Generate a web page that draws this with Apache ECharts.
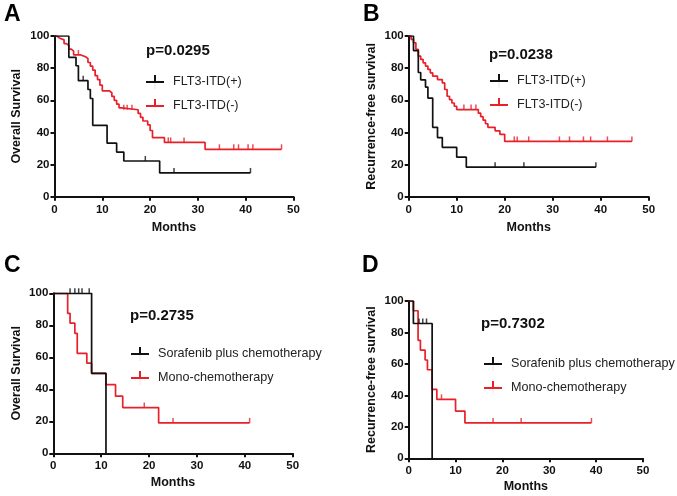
<!DOCTYPE html>
<html><head><meta charset="utf-8">
<script src="https://cdn.jsdelivr.net/npm/echarts@6/dist/echarts.min.js"></script>
<style>html,body{margin:0;padding:0;background:#fff}#c{width:677px;height:496px}</style>
</head><body><div id="c"></div>
<script>
// ---- data ----
const xTickValues = [0, 10, 20, 30, 40, 50];
const yTickValues = [0, 20, 40, 60, 80, 100];
const panelLetters = ['A', 'B', 'C', 'D'];
const pValues = ['p=0.0295', 'p=0.0238', 'p=0.2735', 'p=0.7302'];
const yTitles = ['Overall Survival', 'Recurrence-free survival', 'Overall Survival', 'Recurrence-free survival'];
const xTitle = 'Months';
const legendAB = ['FLT3-ITD(+)', 'FLT3-ITD(-)'];
const legendCD = ['Sorafenib plus chemotherapy', 'Mono-chemotherapy'];

// Panel A (overall survival, FLT3-ITD)
const aPos = [[0,100],[3,86.7],[4.5,81.5],[5,72.2],[7,66.7],[7.5,61.1],[8,44.4],[11,33.3],[13,27.8],[14.5,22.2],[22,14.8],[41,14.8]];
const aPosCens = [[6,72.2],[19,22.2],[25,14.8],[41,14.8]];
const aNeg = [[0,100],[0.5,98.8],[1,97.6],[2,95.3],[2.5,94.1],[3,91.8],[3.5,90.6],[4,88.2],[5.5,87.1],[6.5,85.9],[7,83.5],[7.5,81.2],[8,78.8],[8.5,75.3],[9,72.9],[9.5,69.4],[10,65.9],[11.5,64.7],[12,62.4],[12.5,60],[13,57.6],[13.5,55.3],[14,54.1],[17.5,51.8],[18,49.4],[18.5,47.1],[19.5,44.7],[20,41.2],[20.5,36.7],[23,33.8],[31.5,29.5],[47.5,29.5]];
const aNegCens = [[5,88.2],[14.5,54.1],[15.2,54.1],[16.2,54.1],[23.8,33.8],[24.3,33.8],[27.1,33.8],[34.5,29.5],[37.5,29.5],[38.5,29.5],[40.5,29.5],[41.5,29.5],[47.5,29.5]];

// Panel B (recurrence-free survival, FLT3-ITD)
const bPos = [[0,100],[1,90.9],[2,77.3],[2.5,72.7],[3.5,68.2],[4,61.4],[5,43.2],[6,36.8],[7,30.7],[10,24.6],[12,18.4],[39,18.4]];
const bPosCens = [[18,18.4],[24,18.4],[39,18.4]];
const bNeg = [[0,100],[0.5,97.9],[1,95.8],[1.5,91.7],[2,87.5],[2.5,85.4],[3,83.3],[3.5,81.3],[4,79.2],[4.5,77.1],[5,75],[6,72.9],[7,70.8],[7.5,66.7],[8,62.5],[8.5,60.4],[9,58.3],[9.5,56.3],[10,54.2],[14.5,52],[15,49.8],[15.5,47.6],[16,45.4],[16.5,43.2],[18,41],[19,38.8],[20,34.4],[46.5,34.4]];
const bNegCens = [[11.5,54.2],[13,54.2],[14,54.2],[22,34.4],[22.6,34.4],[25,34.4],[31.4,34.4],[33.5,34.4],[36.4,34.4],[37.9,34.4],[41.4,34.4],[46.5,34.4]];

// Panel C (overall survival, treatment)
const cSora = [[0,100],[8,50],[11,0]];
const cSoraCens = [[3.5,100],[4.5,100],[5.3,100],[6,100],[7.5,100]];
const cMono = [[0,100],[3,87.5],[3.5,81.3],[4.5,75],[5,62.5],[7,56.3],[8,50],[11,42.9],[13,35.7],[14.5,28.6],[22,19.0],[41,19.0]];
const cMonoCens = [[19,28.6],[25,19.0],[41,19.0]];

// Panel D (recurrence-free survival, treatment)
const dSora = [[0,100],[1,85.7],[5,0]];
const dSoraCens = [[2.2,85.7],[3,85.7],[3.8,85.7]];
const dMono = [[0,100],[1,93.8],[2,75],[2.5,68.8],[3.5,62.5],[4,56.3],[5,43.8],[6,37.5],[10,30],[12,22.5],[39,22.5]];
const dMonoCens = [[7,37.5],[18,22.5],[24,22.5],[39,22.5]];

// ---- layout / styles ----
const RED = '#e8202a', BLACK = '#111';
const FONT = 'Arial, "Liberation Sans", sans-serif';
const grids = [
  {left: 54.5, top: 36, width: 239, height: 160.7},
  {left: 408.7, top: 36, width: 240, height: 160.7},
  {left: 53.3, top: 293.3, width: 239.4, height: 160},
  {left: 408.7, top: 301, width: 234.3, height: 157.3}
];
const xNameGaps = [24, 24, 23, 22];
const yNameGaps = [31, 31, 30, 31];

const xAxes = grids.map((g, i) => ({
  gridIndex: i, type: 'value', min: xTickValues[0], max: xTickValues[xTickValues.length - 1], interval: xTickValues[1] - xTickValues[0],
  name: xTitle, nameLocation: 'middle', nameGap: xNameGaps[i],
  nameTextStyle: {fontFamily: FONT, fontWeight: 'bold', fontSize: 12.5, color: '#111'},
  axisLine: {show: true, onZero: false, lineStyle: {color: '#111', width: 2}},
  axisTick: {show: true, length: 4, lineStyle: {color: '#111', width: 2}},
  axisLabel: {fontFamily: FONT, fontWeight: 'bold', fontSize: 11.5, color: '#111', margin: 7},
  splitLine: {show: false}
}));
const yAxes = grids.map((g, i) => ({
  gridIndex: i, type: 'value', min: yTickValues[0], max: yTickValues[yTickValues.length - 1], interval: yTickValues[1] - yTickValues[0],
  name: yTitles[i], nameLocation: 'middle', nameGap: yNameGaps[i],
  nameTextStyle: {fontFamily: FONT, fontWeight: 'bold', fontSize: 12.5, color: '#111'},
  axisLine: {show: true, onZero: false, lineStyle: {color: '#111', width: 2}},
  axisTick: {show: true, length: 4, lineStyle: {color: '#111', width: 2}},
  axisLabel: {fontFamily: FONT, fontWeight: 'bold', fontSize: 11.5, color: '#111', margin: 5},
  splitLine: {show: false}
}));

function curve(name, data, color, idx) {
  return {name: name, type: 'line', step: 'end', data: data, xAxisIndex: idx, yAxisIndex: idx,
    showSymbol: false, symbol: 'none', color: color, lineStyle: {color: color, width: 1.7}, silent: true, z: color === RED ? 3 : 4};
}
function censors(data, color, idx) {
  return {type: 'scatter', data: data, xAxisIndex: idx, yAxisIndex: idx, symbol: 'rect', symbolSize: [1.5, 5],
    symbolOffset: [0, -2.5], itemStyle: {color: color}, silent: true, z: 5};
}
const series = [
  curve(legendAB[0], aPos, BLACK, 0), censors(aPosCens, BLACK, 0),
  curve(legendAB[1], aNeg, RED, 0), censors(aNegCens, RED, 0),
  curve(legendAB[0], bPos, BLACK, 1), censors(bPosCens, BLACK, 1),
  curve(legendAB[1], bNeg, RED, 1), censors(bNegCens, RED, 1),
  curve(legendCD[1], cMono, RED, 2), censors(cMonoCens, RED, 2),
  curve(legendCD[0], cSora, BLACK, 2), censors(cSoraCens, BLACK, 2),
  curve(legendCD[1], dMono, RED, 3), censors(dMonoCens, RED, 3),
  curve(legendCD[0], dSora, BLACK, 3), censors(dSoraCens, BLACK, 3)
];

const ICON = 'path://M0,6h18v2h-18z M8,0h2v6h-2z M8.95,8h0.1v6h-0.1z';
const legendPos = [{left: 146, top: 75}, {left: 490, top: 74}, {left: 131, top: 347}, {left: 484, top: 357}];
const legends = legendPos.map((p, i) => ({
  left: p.left, top: p.top, orient: 'vertical', padding: 0, itemWidth: 18, itemHeight: 14, itemGap: 10,
  data: (i < 2 ? legendAB : legendCD).map(n => ({name: n, icon: ICON})),
  textStyle: {fontFamily: FONT, fontSize: 12.6, color: '#222', padding: [0, 0, 0, 4]},
  itemStyle: {borderWidth: 0}, selectedMode: false
}));

const letterPos = [[4, 15], [363, 15], [4, 266], [362, 266]];
const pPos = [[146, 51], [489, 55], [130, 316], [481, 324]];
const graphic = [];
letterPos.forEach((p, i) => graphic.push({type: 'text', x: p[0], y: p[1], style: {text: panelLetters[i], font: 'bold 23px ' + FONT, fill: '#000', verticalAlign: 'middle'}}));
pPos.forEach((p, i) => graphic.push({type: 'text', x: p[0], y: p[1], style: {text: pValues[i], font: 'bold 15px ' + FONT, fill: '#111', verticalAlign: 'middle'}}));

const chart = echarts.init(document.getElementById('c'), null, {renderer: 'canvas'});
chart.setOption({
  backgroundColor: '#fff', animation: false,
  grid: grids, xAxis: xAxes, yAxis: yAxes, series: series, legend: legends, graphic: graphic
});
</script></body></html>
